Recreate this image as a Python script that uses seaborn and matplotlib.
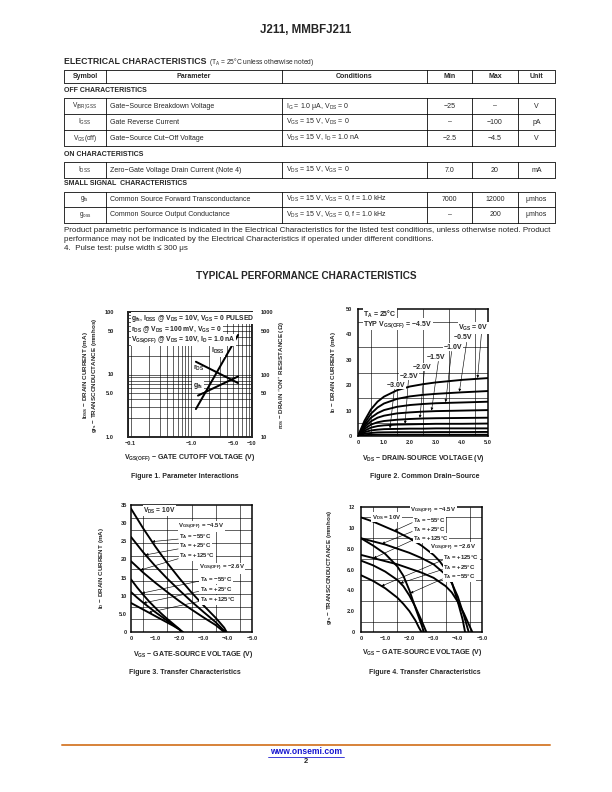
import matplotlib
matplotlib.use('Agg')
import matplotlib.pyplot as plt
import seaborn as sns
import pandas as pd
import numpy as np
from matplotlib import font_manager
from matplotlib.ticker import FixedLocator, MultipleLocator, LogLocator, NullFormatter

# ---------------- data ----------------
TABLE_HEAD = ['Symbol', 'Parameter', 'Conditions', 'Min', 'Max', 'Unit']
SECTIONS = ['OFF CHARACTERISTICS', 'ON CHARACTERISTICS', 'SMALL SIGNAL  CHARACTERISTICS']
SYMBOLS = ['$V_{(BR)GSS}$', '$I_{GSS}$', '$V_{GS}$(off)', '$I_{DSS}$', '$g_{fs}$', '$g_{oss}$']
PARAMS = ['Gate\u2212Source Breakdown Voltage', 'Gate Reverse Current',
          'Gate\u2212Source Cut\u2212Off Voltage', 'Zero\u2212Gate Voltage Drain Current (Note 4)',
          'Common Source Forward Transconductance', 'Common Source Output Conductance']
CONDS = ['$I_G$ = 1.0 \u03bcA, $V_{DS}$ = 0', '$V_{GS}$ = 15 V, $V_{DS}$ = 0',
         '$V_{DS}$ = 15 V, $I_D$ = 1.0 nA', '$V_{DS}$ = 15 V, $V_{GS}$ = 0',
         '$V_{DS}$ = 15 V, $V_{GS}$ = 0, f = 1.0 kHz', '$V_{DS}$ = 15 V, $V_{GS}$ = 0, f = 1.0 kHz']
MINS = ['\u221225', '\u2013', '\u22122.5', '7.0', '7000', '\u2013']
MAXS = ['\u2013', '\u2212100', '\u22124.5', '20', '12000', '200']
UNITS = ['V', 'pA', 'V', 'mA', '\u03bcmhos', '\u03bcmhos']
NOTES = ['Product parametric performance is indicated in the Electrical Characteristics for the listed test conditions, unless otherwise noted. Product',
         'performance may not be indicated by the Electrical Characteristics if operated under different conditions.',
         '4.  Pulse test: pulse width \u2264 300 \u03bcs']

# Figure 1 (|VGS(off)| in volts)
VOFF_IDSS = [1.2, 6.0]
IDSS_MA = [2.8, 43.0]
VOFF_RDS = [1.2, 6.0]
RDS_OHM = [160.0, 73.0]
VOFF_GFS = [1.3, 6.0]
GFS_MMHOS = [4.6, 9.3]

# Figure 2 output curves
VDS_PTS = [0, 0.25, 0.5, 0.75, 1.0, 1.5, 2.0, 2.5, 3.0, 4.0, 5.0]
VGS_STEPS = ['0V', '\u22120.5V', '\u22121.0V', '\u22121.5V', '\u22122.0V', '\u22122.5V', '\u22123.0V', '\u22123.5V', '\u22124.0V']
ID_0V = [0, 6.0, 10.5, 13.5, 15.5, 18.0, 19.5, 20.4, 21.1, 22.1, 22.8]
ID_05V = [0, 5.0, 8.8, 11.2, 12.8, 14.6, 15.6, 16.2, 16.6, 17.2, 17.7]
ID_10V = [0, 4.2, 7.2, 9.0, 10.2, 11.5, 12.2, 12.6, 12.9, 13.2, 13.5]
ID_15V = [0, 3.5, 5.8, 7.2, 8.0, 8.9, 9.3, 9.6, 9.8, 10.0, 10.2]
ID_20V = [0, 2.8, 4.5, 5.4, 5.9, 6.4, 6.7, 6.9, 7.0, 7.1, 7.2]
ID_25V = [0, 2.1, 3.3, 3.9, 4.2, 4.5, 4.6, 4.7, 4.8, 4.8, 4.9]
ID_30V = [0, 1.5, 2.2, 2.5, 2.7, 2.8, 2.9, 2.9, 3.0, 3.0, 3.0]
ID_35V = [0, 0.9, 1.2, 1.4, 1.45, 1.5, 1.5, 1.5, 1.55, 1.55, 1.6]
ID_40V = [0, 0.35, 0.45, 0.5, 0.5, 0.5, 0.5, 0.5, 0.5, 0.5, 0.5]

# Figure 3 transfer curves (VGS, ID mA)
F3_VGS_A = [0, -0.5, -1.0, -1.5, -2.0, -2.5, -3.0, -3.5, -3.85, -3.95]
F3_ID_A = [34.0, 28.6, 23.6, 19.0, 14.8, 10.9, 7.3, 3.9, 1.2, 0]
F3_VGS_B = [0, -0.5, -1.0, -1.5, -2.0, -2.5, -3.0, -3.5, -3.9]
F3_ID_B = [26.2, 22.0, 18.2, 14.7, 11.5, 8.4, 5.5, 2.7, 0]
F3_VGS_C = [0, -0.5, -1.0, -1.5, -2.0, -2.5, -3.0, -3.5, -3.85]
F3_ID_C = [19.5, 16.4, 13.6, 11.0, 8.5, 6.2, 4.0, 1.9, 0]
F3_VGS_D = [0, -0.25, -0.5, -0.75, -1.0, -1.25, -1.5, -1.75, -2.0, -2.1]
F3_ID_D = [14.5, 12.3, 10.3, 8.4, 6.7, 5.1, 3.6, 2.2, 0.8, 0]
F3_VGS_E = [0, -0.25, -0.5, -0.75, -1.0, -1.25, -1.5, -1.75, -2.0, -2.1]
F3_ID_E = [11.0, 9.5, 8.1, 6.8, 5.5, 4.3, 3.1, 1.9, 0.7, 0]
F3_VGS_F = [0, -0.25, -0.5, -0.75, -1.0, -1.25, -1.5, -1.75, -2.0, -2.15]
F3_ID_F = [8.0, 7.1, 6.2, 5.3, 4.4, 3.5, 2.6, 1.7, 0.7, 0]

# Figure 4 transconductance curves (VGS, gfs mmhos)
F4_VGS_G = [0, -0.5, -1.0, -1.5, -2.0, -2.5, -3.0, -3.25, -3.5, -3.75, -4.0, -4.2, -4.3]
F4_GFS_G = [11.0, 10.6, 10.1, 9.6, 9.0, 8.3, 7.4, 6.8, 6.0, 4.8, 2.9, 1.2, 0]
F4_VGS_H = [0, -0.5, -1.0, -1.5, -2.0, -2.5, -3.0, -3.5, -3.75, -4.0, -4.25, -4.45]
F4_GFS_H = [9.0, 8.7, 8.4, 8.0, 7.6, 7.1, 6.5, 5.5, 4.7, 3.4, 1.6, 0]
F4_VGS_I = [0, -0.5, -1.0, -1.5, -2.0, -2.5, -3.0, -3.5, -3.75, -4.0, -4.25, -4.5, -4.6]
F4_GFS_I = [7.4, 7.1, 6.8, 6.5, 6.1, 5.7, 5.2, 4.4, 3.8, 2.9, 1.8, 0.5, 0]
F4_VGS_J = [0, -0.5, -1.0, -1.5, -1.75, -2.0, -2.25, -2.5, -2.6]
F4_GFS_J = [9.0, 8.3, 7.5, 6.3, 5.4, 4.0, 2.3, 0.7, 0]
F4_VGS_K = [0, -0.5, -1.0, -1.5, -1.75, -2.0, -2.25, -2.5, -2.7]
F4_GFS_K = [6.85, 6.4, 5.8, 5.0, 4.4, 3.5, 2.4, 1.1, 0]
F4_VGS_L = [0, -0.5, -1.0, -1.5, -1.75, -2.0, -2.25, -2.4, -2.5]
F4_GFS_L = [5.45, 4.9, 4.2, 3.3, 2.7, 2.0, 1.1, 0.4, 0]

# ---------------- style ----------------
sns.set_theme(style='ticks')
installed = {f.name for f in font_manager.fontManager.ttflist}
NARROW = 'Liberation Sans Narrow' if 'Liberation Sans Narrow' in installed else 'Liberation Sans'
TICK = 5.6    # tick labels
ANN = 7.0     # text inside the charts
XL = 7.0      # x axis titles
YL = 6.2      # y axis titles
PAGE = ['Liberation Sans', 'DejaVu Sans']
CHART = [NARROW, 'Liberation Sans', 'DejaVu Sans']
plt.rcParams['font.family'] = CHART
plt.rcParams['font.weight'] = 'bold'
plt.rcParams['mathtext.default'] = 'regular'
plt.rcParams['axes.unicode_minus'] = True

fig = plt.figure(figsize=(8.5, 11), dpi=72)
page = fig.add_axes([0, 0, 1, 1], zorder=0)
page.set_xlim(0, 612)
page.set_ylim(792, 0)
page.set_axis_off()


def ptext(x, y, s, size=7, weight='normal', ha='left', family=PAGE, **kw):
    page.text(x, y, s, fontsize=size, fontweight=weight, ha=ha, va='center',
              family=family, **kw)


def hline(y, x0=64, x1=555):
    page.plot([x0, x1], [y, y], color='black', lw=0.8, solid_capstyle='butt')


COLS = [64, 106, 282, 427, 472, 518, 555]
CENTERS = [(COLS[i] + COLS[i + 1]) / 2 for i in range(6)]


def table_block(top, heights):
    ys = [top]
    for h in heights:
        ys.append(ys[-1] + h)
    for y in ys:
        hline(y)
    for x in COLS:
        page.plot([x, x], [ys[0], ys[-1]], color='black', lw=0.8)
    return [(ys[i] + ys[i + 1]) / 2 for i in range(len(heights))]


# ---------------- header + table ----------------
ptext(306, 30, 'J211, MMBFJ211', 11.5, 'bold', 'center')
ptext(64, 61, 'ELECTRICAL CHARACTERISTICS', 8.8, 'bold')
ptext(209, 61.5, '($T_A$ = 25\u00b0C unless otherwise noted)', 6.6)

hc = table_block(70, [13])[0]
for c, h in zip(CENTERS, TABLE_HEAD):
    ptext(c, hc, h, 7, 'bold', 'center')

row_y = table_block(98, [16, 16, 16]) + table_block(162, [16]) + table_block(191.5, [15.5, 15.5])
for sec, y in zip(SECTIONS, [91, 155, 183.5]):
    ptext(64, y, sec, 7, 'bold')
for i, y in enumerate(row_y):
    ptext(CENTERS[0], y, SYMBOLS[i], 6.5, ha='center')
    ptext(110, y, PARAMS[i], 7)
    ptext(286, y, CONDS[i], 7)
    ptext(CENTERS[3], y, MINS[i], 7, ha='center')
    ptext(CENTERS[4], y, MAXS[i], 7, ha='center')
    ptext(CENTERS[5], y, UNITS[i], 7, ha='center')
for y, s in zip([231, 239.5, 248], NOTES):
    ptext(64, y, s, 8.0)

ptext(306, 276, 'TYPICAL PERFORMANCE CHARACTERISTICS', 10, 'bold', 'center')


# ---------------- charts ----------------
def box(l, t, r, b):
    ax = fig.add_axes([l / 612, 1 - b / 792, (r - l) / 612, (b - t) / 792], zorder=2)
    for s in ax.spines.values():
        s.set_linewidth(1.5)
        s.set_color('black')
    ax.set_facecolor('white')
    return ax


def curves(ax, xs_list, ys_list, lw=1.8):
    rows = []
    for k, (xs, ys) in enumerate(zip(xs_list, ys_list)):
        for x, y in zip(xs, ys):
            rows.append({'x': x, 'y': y, 'curve': k})
    df = pd.DataFrame(rows)
    sns.lineplot(data=df, x='x', y='y', units='curve', estimator=None, sort=False,
                 color='black', lw=lw, ax=ax, legend=False)
    ax.set_xlabel('')
    ax.set_ylabel('')


WHITE = dict(boxstyle='square,pad=0.08', fc='white', ec='none')
ARROW = dict(arrowstyle='-|>', color='black', lw=0.6, mutation_scale=5, shrinkA=0, shrinkB=0)


def label(ax, x, y, s, size=ANN, **kw):
    ax.text(x, y, s, fontsize=size, ha='left', va='center', bbox=WHITE, zorder=6, **kw)


def arrow(ax, tail, head):
    ax.annotate('', xy=head, xytext=tail, arrowprops=ARROW, zorder=5)


def lin_axes(ax, xlim, ylim, xt, xl, yt, yl, xgrid, ygrid, ypad):
    ax.set_xlim(*xlim)
    ax.set_ylim(*ylim)
    ax.xaxis.set_major_locator(FixedLocator(xt))
    ax.set_xticklabels(xl)
    ax.yaxis.set_major_locator(FixedLocator(yt))
    ax.set_yticklabels(yl)
    ax.xaxis.set_minor_locator(MultipleLocator(xgrid))
    ax.yaxis.set_minor_locator(MultipleLocator(ygrid))
    ax.grid(False, which='major')
    ax.grid(True, which='minor', color='black', lw=0.6)
    ax.tick_params(which='both', length=0, labelsize=TICK)
    ax.tick_params(axis='x', pad=4)
    ax.tick_params(axis='y', pad=ypad)
    ax.set_axisbelow(True)


# Figure 1
ax1 = box(128, 312, 252, 437)
ax1.set_xscale('log')
ax1.set_yscale('log')
ax1.set_xlim(0.09, 10.2)
ax1.set_ylim(1, 100)
curves(ax1, [VOFF_IDSS, VOFF_GFS], [IDSS_MA, GFS_MMHOS], lw=2.0)
ax1.xaxis.set_major_locator(FixedLocator([0.1, 1, 5, 10]))
ax1.set_xticklabels(['\u22120.1', '\u22121.0', '\u22125.0', '\u221210'])
ax1.yaxis.set_major_locator(FixedLocator([1, 5, 10, 50, 100]))
ax1.set_yticklabels(['1.0', '5.0', '10', '50', '100'])
ax1.xaxis.set_minor_locator(LogLocator(subs=np.arange(2, 10)))
ax1.yaxis.set_minor_locator(LogLocator(subs=np.arange(2, 10)))
ax1.xaxis.set_minor_formatter(NullFormatter())
ax1.yaxis.set_minor_formatter(NullFormatter())
ax1.grid(True, which='both', color='black', lw=0.6)
ax1.tick_params(which='both', length=0, labelsize=TICK)
ax1.tick_params(axis='x', pad=4)
ax1.tick_params(axis='y', pad=14)
ax1b = ax1.twinx()
ax1b.set_yscale('log')
ax1b.set_ylim(10, 1000)
curves(ax1b, [VOFF_RDS], [RDS_OHM], lw=2.0)
ax1b.yaxis.set_major_locator(FixedLocator([10, 50, 100, 500, 1000]))
ax1b.set_yticklabels(['10', '50', '100', '500', '1000'])
ax1b.yaxis.set_minor_formatter(NullFormatter())
ax1b.tick_params(which='both', length=0, labelsize=TICK, pad=9)
for s in ax1b.spines.values():
    s.set_linewidth(1.5)
ax1.set_zorder(2)
ax1b.set_zorder(3)
ax1b.patch.set_visible(False)
for i, s in enumerate(['$g_{fs}$, $I_{DSS}$ @ $V_{DS}$ = 10V, $V_{GS}$ = 0 PULSED',
                       '$r_{DS}$ @ $V_{DS}$ = 100 mV, $V_{GS}$ = 0',
                       '$V_{GS(OFF)}$ @ $V_{DS}$ = 10V, $I_D$ = 1.0 nA']):
    ax1b.text(0.025, 0.95 - i * 0.087, s, transform=ax1.transAxes, fontsize=6.7,
              ha='left', va='center', bbox=WHITE, zorder=6)
label(ax1, 2.1, 23.5, '$I_{DSS}$')
label(ax1, 1.07, 12.7, '$r_{DS}$')
label(ax1, 1.07, 6.5, '$g_{fs}$')
ptext(86, 375, '$I_{DSS}$ \u2212 DRAIN CURRENT (mA)', YL, 'bold', 'center', CHART, rotation=90)
ptext(94.5, 375, '$g_{fs}$ \u2212 TRANSCONDUCTANCE (mmhos)', YL, 'bold', 'center', CHART, rotation=90)
ptext(281, 375, '$r_{DS}$ \u2212 DRAIN \u201cON\u201d RESISTANCE (\u03a9)', YL, 'bold', 'center', CHART, rotation=90)
ptext(190, 458, '$V_{GS(OFF)}$ \u2212 GATE CUTOFF VOLTAGE (V)', XL, 'bold', 'center', CHART)

# Figure 2
ax2 = box(358, 309, 488, 436)
f2_curves = [ID_0V, ID_05V, ID_10V, ID_15V, ID_20V, ID_25V, ID_30V, ID_35V, ID_40V]
curves(ax2, [VDS_PTS] * len(f2_curves), f2_curves, lw=1.9)
lin_axes(ax2, (0, 5), (0, 50), [0, 1, 2, 3, 4, 5], ['0', '1.0', '2.0', '3.0', '4.0', '5.0'],
         [0, 10, 20, 30, 40, 50], ['0', '10', '20', '30', '40', '50'], 0.5, 5, 6)
label(ax2, 0.2, 47.8, '$T_A$ = 25\u00b0C')
label(ax2, 0.2, 44.0, 'TYP $V_{GS(OFF)}$ = \u22124.5V')
f2_lab = [(3.85, 42.5), (3.7, 38.6), (3.3, 35.0), (2.65, 31.0), (2.1, 27.0), (1.6, 23.6), (1.1, 20.0)]
f2_tail = [(4.75, 40.6), (4.18, 36.9), (3.6, 33.3), (3.09, 29.4), (2.55, 25.5), (1.94, 22.0), (1.4, 18.4)]
f2_head = [4.6, 3.9, 3.37, 2.83, 2.38, 1.81, 1.23]
for k in range(7):
    txt = '$V_{GS}$ = 0V' if k == 0 else VGS_STEPS[k]
    label(ax2, f2_lab[k][0], f2_lab[k][1], txt)
    arrow(ax2, f2_tail[k], (f2_head[k], np.interp(f2_head[k], VDS_PTS, f2_curves[k]) + 0.3))
ptext(333, 372, '$I_D$ \u2212 DRAIN CURRENT (mA)', YL, 'bold', 'center', CHART, rotation=90)
ptext(423, 458, '$V_{DS}$ \u2212 DRAIN-SOURCE VOLTAGE (V)', XL, 'bold', 'center', CHART)

# Figure 3
ax3 = box(131, 505, 252, 632)
curves(ax3, [F3_VGS_A, F3_VGS_B, F3_VGS_C, F3_VGS_D, F3_VGS_E, F3_VGS_F],
       [F3_ID_A, F3_ID_B, F3_ID_C, F3_ID_D, F3_ID_E, F3_ID_F], lw=1.9)
lin_axes(ax3, (0, -5), (0, 35), [0, -1, -2, -3, -4, -5],
         ['0', '\u22121.0', '\u22122.0', '\u22123.0', '\u22124.0', '\u22125.0'],
         [0, 5, 10, 15, 20, 25, 30, 35], ['0', '5.0', '10', '15', '20', '25', '30', '35'], 0.5, 3.5, 4)
F3S = 6.0
label(ax3, -0.5, 33.4, '$V_{DS}$ = 10V', 6.6)
label(ax3, -1.95, 29.1, '$V_{GS(OFF)}$ = \u22124.5V', F3S)
for y, s in zip([26.4, 23.7, 21.0], ['\u221255\u00b0C', '+25\u00b0C', '+125\u00b0C']):
    label(ax3, -2.0, y, '$T_A$ = ' + s, F3S)
label(ax3, -2.8, 17.6, '$V_{GS(OFF)}$ = \u22122.6V', F3S)
for y, s in zip([14.5, 11.7, 8.9], ['\u221255\u00b0C', '+25\u00b0C', '+125\u00b0C']):
    label(ax3, -2.85, y, '$T_A$ = ' + s, F3S)
for tail, hx, xs, ys in [((-1.95, 25.6), -0.87, F3_VGS_A, F3_ID_A),
                         ((-1.95, 22.9), -0.6, F3_VGS_B, F3_ID_B),
                         ((-1.95, 20.2), -0.39, F3_VGS_C, F3_ID_C),
                         ((-2.8, 14.0), -0.45, F3_VGS_D, F3_ID_D),
                         ((-2.8, 11.2), -0.52, F3_VGS_E, F3_ID_E),
                         ((-2.8, 8.4), -0.73, F3_VGS_F, F3_ID_F)]:
    arrow(ax3, tail, (hx, np.interp(-hx, [-v for v in xs], ys)))
ptext(101, 568, '$I_D$ \u2212 DRAIN CURRENT (mA)', YL, 'bold', 'center', CHART, rotation=90)
ptext(193, 654, '$V_{GS}$ \u2212 GATE-SOURCE VOLTAGE (V)', XL, 'bold', 'center', CHART)

# Figure 4
ax4 = box(361, 507, 482, 632)
curves(ax4, [F4_VGS_G, F4_VGS_H, F4_VGS_I, F4_VGS_J, F4_VGS_K, F4_VGS_L],
       [F4_GFS_G, F4_GFS_H, F4_GFS_I, F4_GFS_J, F4_GFS_K, F4_GFS_L], lw=1.9)
lin_axes(ax4, (0, -5), (0, 12), [0, -1, -2, -3, -4, -5],
         ['0', '\u22121.0', '\u22122.0', '\u22123.0', '\u22124.0', '\u22125.0'],
         [0, 2, 4, 6, 8, 10, 12], ['0', '2.0', '4.0', '6.0', '8.0', '10', '12'], 0.5, 1.0, 6)
F4S = 6.0
label(ax4, -0.45, 11.0, '$V_{DS}$ = 10V', F4S)
label(ax4, -2.04, 11.58, '$V_{GS(OFF)}$ = \u22124.5V', F4S)
for y, s in zip([10.7, 9.85, 9.0], ['\u221255\u00b0C', '+25\u00b0C', '+125\u00b0C']):
    label(ax4, -2.15, y, '$T_A$ = ' + s, F4S)
label(ax4, -2.86, 8.1, '$V_{GS(OFF)}$ = \u22122.6V', F4S)
for y, s in zip([7.1, 6.2, 5.3], ['+125\u00b0C', '+25\u00b0C', '\u221255\u00b0C']):
    label(ax4, -3.4, y, '$T_A$ = ' + s, F4S)
for tail, hx, xs, ys in [((-2.12, 10.5), -1.38, F4_VGS_G, F4_GFS_G),
                         ((-2.12, 9.65), -0.87, F4_VGS_H, F4_GFS_H),
                         ((-2.12, 8.8), -0.52, F4_VGS_I, F4_GFS_I),
                         ((-3.37, 6.9), -0.85, F4_VGS_L, F4_GFS_L),
                         ((-3.37, 6.0), -1.63, F4_VGS_K, F4_GFS_K),
                         ((-3.37, 5.1), -2.04, F4_VGS_J, F4_GFS_J)]:
    arrow(ax4, tail, (hx, np.interp(-hx, [-v for v in xs], ys)))
ptext(330, 567, '$g_{fs}$ \u2212 TRANSCONDUCTANCE (mmhos)', YL, 'bold', 'center', CHART, rotation=90)
ptext(422, 653, '$V_{GS}$ \u2212 GATE-SOURCE VOLTAGE (V)', XL, 'bold', 'center', CHART)

# captions
ptext(185, 476, 'Figure 1. Parameter Interactions', 7, 'bold', 'center')
ptext(425, 476, 'Figure 2. Common Drain\u2212Source', 7, 'bold', 'center')
ptext(185, 672, 'Figure 3. Transfer Characteristics', 7, 'bold', 'center')
ptext(425, 672, 'Figure 4. Transfer Characteristics', 7, 'bold', 'center')

# footer
page.plot([62, 550], [745, 745], color='#d8853e', lw=2)
ptext(306, 752, 'www.onsemi.com', 8.5, 'bold', 'center', color='#1515d0')
page.plot([268, 344], [757, 757], color='#1515d0', lw=0.8)
ptext(306, 761.5, '2', 7.5, 'bold', 'center')

fig.savefig('out.png', dpi=72)
